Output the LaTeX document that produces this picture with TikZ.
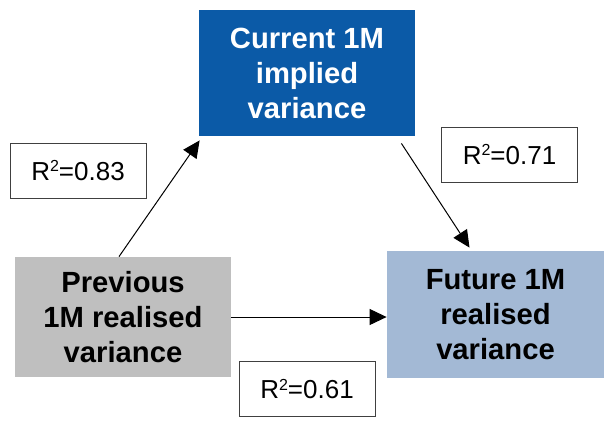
\documentclass[tikz,border=0pt]{standalone}
\usepackage{fontspec}
\setmainfont{Liberation Sans}
\usepackage{tikz}
\usetikzlibrary{arrows.meta}

\definecolor{implblue}{HTML}{0B5AA7}
\definecolor{prevgray}{HTML}{BFBFBF}
\definecolor{futblue}{HTML}{A3B9D5}

\begin{document}
\begin{tikzpicture}[x=0.5pt,y=-0.5pt,
    varbox/.style={minimum width=108pt,minimum height=62pt,inner sep=0pt,
      align=center,font=\fontsize{14.6}{17.5}\selectfont\bfseries},
    rbox/.style={draw=black!75,line width=0.5pt,minimum width=68pt,minimum height=27.5pt,
      inner sep=0pt,font=\fontsize{13}{15}\selectfont},
    arr/.style={line width=0.5pt,-{Triangle[length=8.5pt,width=8pt]}}]
  \useasboundingbox (0,0) rectangle (609,441);

  \node[varbox,fill=implblue,text=white,minimum height=63pt] (impl) at (307,73)
    {Current 1M\\implied\\variance};
  \node[varbox,fill=prevgray,minimum height=60pt] (prev) at (123,317)
    {Previous\\1M realised\\variance};
  \node[varbox,fill=futblue,minimum width=108.5pt,minimum height=63.5pt] (fut) at (495.5,314.5)
    {Future 1M\\realised\\variance};

  \node[rbox] (r83) at (78,170.5) {R\raisebox{0.6ex}{\fontsize{8}{8}\selectfont 2}=0.83};
  \node[rbox] (r71) at (509.5,154.5) {R\raisebox{0.6ex}{\fontsize{8}{8}\selectfont 2}=0.71};
  \node[rbox] (r61) at (307,389) {R\raisebox{0.6ex}{\fontsize{8}{8}\selectfont 2}=0.61};

  % regressions
  \draw[arr] ([xshift=-2pt]prev.north) -- ([xshift=0.5pt,yshift=-2pt]impl.south west);
  \draw[arr] ([xshift=-7pt,yshift=-3.5pt]impl.south east) -- ([xshift=-13pt,yshift=1.5pt]fut.north);
  \draw[arr] (prev.east) -- (prev.east -| fut.west);
\end{tikzpicture}
\end{document}
